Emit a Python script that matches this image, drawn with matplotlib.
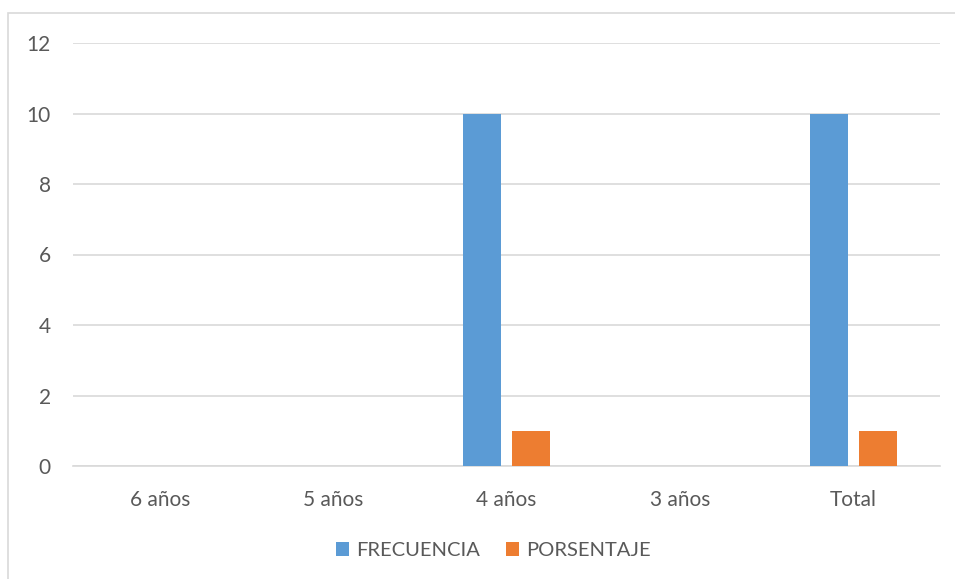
import matplotlib.pyplot as plt
import matplotlib.patches as mpatches
import numpy as np

categories = ['6 años', '5 años', '4 años', '3 años', 'Total']
frecuencia = [0, 0, 10, 0, 10]
porsentaje = [0, 0, 1, 0, 1]
yticks = [0, 2, 4, 6, 8, 10, 12]

blue = '#5B9BD5'
orange = '#ED7D31'
txt = '#595959'
grid = '#D9D9D9'

plt.rcParams['font.family'] = ['Lato', 'DejaVu Sans']

W, H = 955, 579
fig = plt.figure(figsize=(W / 100, H / 100), dpi=100)

# chart border (right and bottom edges fall outside the picture)
fig.patches.append(mpatches.Rectangle((8 / W, -0.05), 1.1, 1.05 - 13 / H, transform=fig.transFigure,
                                      fill=False, edgecolor=grid, linewidth=1.2))

ax = fig.add_axes([73 / W, 1 - 466 / H, 867 / W, 423 / H])

x = np.arange(len(categories))
w = 0.219
off = 0.141
ax.bar(x - off, frecuencia, w, color=blue, label='FRECUENCIA', zorder=3)
ax.bar(x + off, porsentaje, w, color=orange, label='PORSENTAJE', zorder=3)

ax.set_xlim(-0.5, len(categories) - 0.5)
ax.set_ylim(0, 12)
ax.set_yticks(yticks)
ax.set_xticks(x)
ax.set_xticklabels(categories)
ax.yaxis.grid(True, color=grid, linewidth=1.2, zorder=0)
for s in ['top', 'right', 'left']:
    ax.spines[s].set_visible(False)
ax.spines['bottom'].set_color(grid)
ax.spines['bottom'].set_linewidth(1.2)
ax.tick_params(axis='both', length=0, labelsize=15, colors=txt)
ax.tick_params(axis='y', pad=16)
ax.tick_params(axis='x', pad=17)

leg = ax.legend(loc='center', bbox_to_anchor=(0.485, -0.2), ncol=2, frameon=False,
                fontsize=14.5, handlelength=0.65, handleheight=0.65, columnspacing=1.3,
                handletextpad=0.35)
for t in leg.get_texts():
    t.set_color(txt)

fig.savefig('out.png', dpi=100)
